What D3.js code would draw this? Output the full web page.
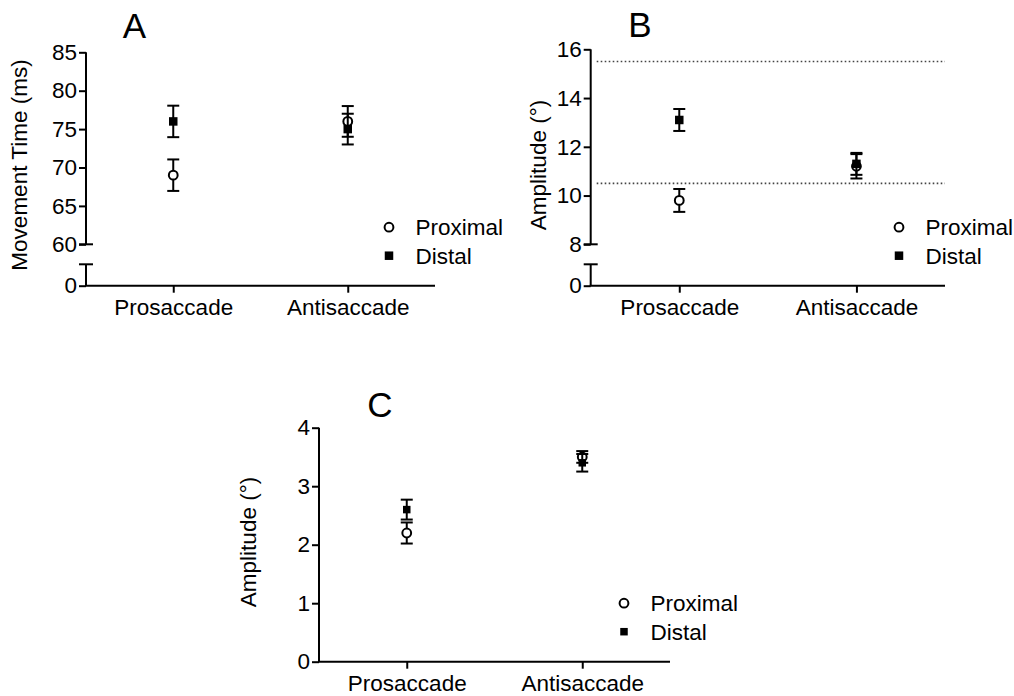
<!DOCTYPE html>
<html><head><meta charset="utf-8">
<script src="https://cdn.jsdelivr.net/npm/d3@7"></script>
<style>body{margin:0;background:#fff} text{font-family:"Liberation Sans",Arial,Helvetica,sans-serif;fill:#000}</style>
</head><body><svg id="c" width="1014" height="696"></svg>
<script>
// ---- data ----
const categories = ["Prosaccade", "Antisaccade"];
const seriesNames = ["Proximal", "Distal"];

// Panel A: Movement Time (ms)
const aProximal = [69, 76];
const aProximalErr = [2.05, 2.0];
const aDistal = [76, 75];
const aDistalErr = [2.05, 2.0];
const aTicks = [60, 65, 70, 75, 80, 85];
const aLowerTicks = [0];

// Panel B: Amplitude (°)
const bProximal = [9.8, 11.2];
const bProximalErr = [0.47, 0.5];
const bDistal = [13.1, 11.3];
const bDistalErr = [0.45, 0.45];
const bRefLines = [15.5, 10.5];
const bTicks = [8, 10, 12, 14, 16];
const bLowerTicks = [0];

// Panel C: Amplitude (°)
const cProximal = [2.2, 3.5];
const cProximalErr = [0.18, 0.1];
const cDistal = [2.6, 3.4];
const cDistalErr = [0.17, 0.15];
const cTicks = [0, 1, 2, 3, 4];

// ---- layout ----
const svg = d3.select("#c");
const FS = 22.5;
const fmt = d3.format("d");

const panels = [
  {letter: "A", letterX: 134.5, letterY: 38, yTitle: "Movement Time (ms)", yTitleX: 27, yTitleY: 165,
   axisX: 86, axisRight: 435, axisY: 285.7, domain: [60, 85], top: 52.3, breakBottom: 244.3, breakTop: 264.3,
   ticks: aTicks, lowerTicks: aLowerTicks, prox: aProximal, proxErr: aProximalErr, dist: aDistal, distErr: aDistalErr,
   ref: [], sq: 8.5},
  {letter: "B", letterX: 640, letterY: 37, yTitle: "Amplitude (°)", yTitleX: 546, yTitleY: 165,
   axisX: 590.7, axisRight: 945, axisY: 285.7, domain: [8, 16], top: 49.3, breakBottom: 244.3, breakTop: 264.3,
   ticks: bTicks, lowerTicks: bLowerTicks, prox: bProximal, proxErr: bProximalErr, dist: bDistal, distErr: bDistalErr,
   ref: bRefLines, sq: 8.5},
  {letter: "C", letterX: 380, letterY: 417, yTitle: "Amplitude (°)", yTitleX: 256, yTitleY: 542,
   axisX: 319, axisRight: 670, axisY: 661.7, domain: [0, 4], top: 427.7, breakBottom: null, breakTop: null,
   ticks: cTicks, lowerTicks: null, prox: cProximal, proxErr: cProximalErr, dist: cDistal, distErr: cDistalErr,
   ref: [], sq: 7.5}
];

function styleAxis(g) {
  g.attr("font-size", null).attr("font-family", null);
  g.selectAll("text").style("font-size", FS + "px").attr("fill", "#000");
  g.selectAll("line").attr("stroke", "#000").attr("stroke-width", 2);
  g.selectAll("path").attr("stroke", "#000").attr("stroke-width", 2);
}

panels.forEach(p => {
  const g = svg.append("g");
  const hasBreak = p.breakBottom !== null;
  const y = d3.scaleLinear().domain(p.domain).range([hasBreak ? p.breakBottom : p.axisY, p.top]);
  const x = d3.scalePoint().domain(categories).range([p.axisX, p.axisRight]).padding(0.5);

  // reference dotted lines
  g.selectAll("line.ref").data(p.ref).join("line")
    .attr("x1", p.axisX + 6).attr("x2", p.axisRight)
    .attr("y1", d => y(d)).attr("y2", d => y(d))
    .attr("stroke", "#444").attr("stroke-width", 1.6).attr("stroke-dasharray", "1.6,2.4");

  // y axis upper
  const ya = g.append("g").attr("transform", `translate(${p.axisX},0)`)
    .call(d3.axisLeft(y).tickValues(p.ticks).tickFormat(fmt).tickSize(7).tickPadding(2).tickSizeOuter(0));
  ya.select(".domain").remove();
  styleAxis(ya);
  g.append("line").attr("x1", p.axisX).attr("x2", p.axisX)
    .attr("y1", y(p.domain[1])).attr("y2", hasBreak ? y(p.domain[0]) : p.axisY)
    .attr("stroke", "#000").attr("stroke-width", 2);

  if (hasBreak) {
    const yl = d3.scaleLinear().domain([0, 1]).range([p.axisY, p.breakTop]);
    const yla = g.append("g").attr("transform", `translate(${p.axisX},0)`)
      .call(d3.axisLeft(yl).tickValues(p.lowerTicks).tickFormat(fmt).tickSize(7).tickPadding(2).tickSizeOuter(0));
    yla.select(".domain").remove();
    styleAxis(yla);
    g.append("line").attr("x1", p.axisX).attr("x2", p.axisX)
      .attr("y1", p.breakTop).attr("y2", p.axisY)
      .attr("stroke", "#000").attr("stroke-width", 2);
    [y(p.domain[0]), p.breakTop].forEach(yy => {
      g.append("line").attr("x1", p.axisX - 7).attr("x2", p.axisX + 7)
        .attr("y1", yy).attr("y2", yy).attr("stroke", "#000").attr("stroke-width", 2);
    });
  }

  // x axis
  const xa = g.append("g").attr("transform", `translate(0,${p.axisY})`)
    .call(d3.axisBottom(x).tickSize(7).tickPadding(6).tickSizeOuter(0));
  styleAxis(xa);
  xa.select(".domain").attr("d", `M${p.axisX - 1},0H${p.axisRight}`);

  // panel letter
  g.append("text").attr("x", p.letterX).attr("y", p.letterY).attr("text-anchor", "middle")
    .style("font-size", "35px").text(p.letter);

  // y title
  g.append("text").attr("transform", `translate(${p.yTitleX},${p.yTitleY}) rotate(-90)`)
    .attr("text-anchor", "middle").style("font-size", FS + "px").text(p.yTitle);

  // error bars + markers
  const series = [
    {name: seriesNames[0], vals: p.prox, errs: p.proxErr},
    {name: seriesNames[1], vals: p.dist, errs: p.distErr}
  ];
  series.forEach((s, si) => {
    const sg = g.append("g");
    categories.forEach((c, i) => {
      const cx = x(c), v = s.vals[i], e = s.errs[i];
      sg.append("line").attr("x1", cx).attr("x2", cx).attr("y1", y(v - e)).attr("y2", y(v + e))
        .attr("stroke", "#000").attr("stroke-width", 2);
      [v - e, v + e].forEach(w => {
        sg.append("line").attr("x1", cx - 6).attr("x2", cx + 6).attr("y1", y(w)).attr("y2", y(w))
          .attr("stroke", "#000").attr("stroke-width", 2);
      });
      if (si === 0) {
        sg.append("circle").attr("cx", cx).attr("cy", y(v)).attr("r", 4.4)
          .attr("fill", "#fff").attr("stroke", "#000").attr("stroke-width", 2);
      } else {
        sg.append("rect").attr("x", cx - p.sq / 2).attr("y", y(v) - p.sq / 2)
          .attr("width", p.sq).attr("height", p.sq).attr("fill", "#000");
      }
    });
  });

  // legend
  const lx = p.axisRight - 46;
  const ly = [p.axisY - 58.5, p.axisY - 30];
  const lg = g.append("g");
  lg.append("circle").attr("cx", lx).attr("cy", ly[0]).attr("r", 4.4)
    .attr("fill", "#fff").attr("stroke", "#000").attr("stroke-width", 2);
  lg.append("rect").attr("x", lx - p.sq / 2).attr("y", ly[1] - p.sq / 2)
    .attr("width", p.sq).attr("height", p.sq).attr("fill", "#000");
  seriesNames.forEach((n, i) => {
    lg.append("text").attr("x", lx + 26.5).attr("y", ly[i]).attr("dy", "0.35em")
      .style("font-size", FS + "px").text(n);
  });
});
</script>
</body></html>
